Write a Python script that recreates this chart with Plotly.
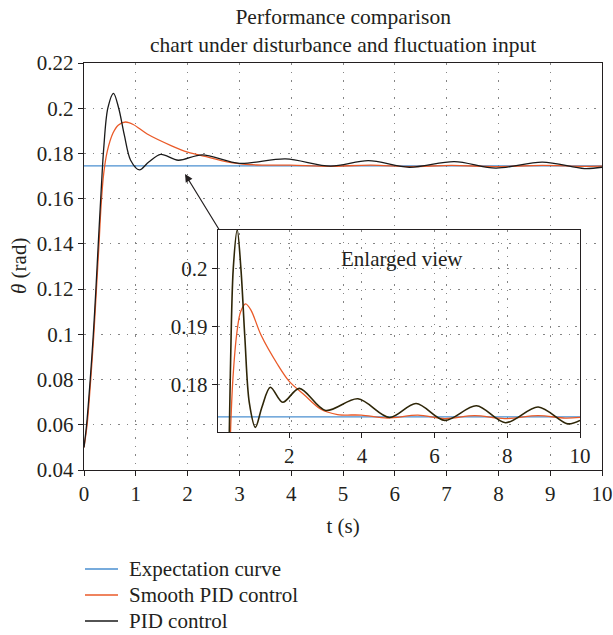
import plotly.graph_objects as go

# Time axis (s) and response values (rad)
t_expect = [0, 10]
y_expect = [0.1745, 0.1745]

t_smooth = [0, 0.06, 0.13, 0.19, 0.24, 0.29, 0.33, 0.38, 0.45, 0.56, 0.66, 0.8, 0.95,
            1.22, 1.68, 2.0, 2.41, 2.87, 3.33, 3.98, 4.71, 5.54, 6.28, 7.1, 7.93, 8.85,
            9.59, 10]
y_smooth = [0.05, 0.06, 0.08, 0.1, 0.12, 0.14, 0.157, 0.171, 0.181, 0.189, 0.1925, 0.1939,
            0.1928, 0.1886, 0.1835, 0.1806, 0.1783, 0.1758, 0.1749, 0.1748, 0.1743, 0.1748,
            0.1742, 0.1747, 0.1742, 0.1747, 0.1743, 0.1744]

t_pid = [0, 0.05, 0.12, 0.18, 0.23, 0.28, 0.33, 0.38, 0.46, 0.57, 0.67, 0.78, 0.9, 1.07,
         1.25, 1.48, 1.82, 2.28, 3.0, 3.89, 4.76, 5.49, 6.28, 7.15, 7.95, 8.85, 9.66, 10]
y_pid = [0.05, 0.06, 0.08, 0.1, 0.12, 0.142, 0.163, 0.182, 0.2, 0.2066, 0.2, 0.188, 0.177,
         0.1727, 0.1762, 0.1796, 0.177, 0.1794, 0.1756, 0.1776, 0.1744, 0.1768, 0.1739,
         0.1764, 0.1735, 0.1762, 0.1733, 0.1739]

series_names = ["Expectation curve", "Smooth PID control", "PID control"]

BLUE = "#4a8fd0"
ORANGE = "#ea5a28"
BLACK = "#1a1a1a"
INK = "#231f20"
FONT = "Liberation Serif"
FS = 21

# plot-area geometry in pixels (left, right, top, bottom)
L, R, T, B = 84, 602, 63, 470


def px_x(px):
    return (px - L) / (R - L)


def px_y(py):
    return (B - py) / (B - T)


GRID = dict(showgrid=True, gridcolor="#858585", griddash="1.5px,7px", gridwidth=1.3,
            zeroline=False, showline=True, linecolor=INK, linewidth=1.4,
            mirror=True, ticks="outside", ticklen=5, tickcolor=INK, automargin=False,
            tickfont=dict(family=FONT, size=FS, color=INK))

fig = go.Figure()

series = [(t_expect, y_expect, BLUE), (t_smooth, y_smooth, ORANGE), (t_pid, y_pid, BLACK)]

# main view
for name, (tx, ty, col) in zip(series_names, series):
    fig.add_trace(go.Scatter(x=tx, y=ty, mode="lines", name=name, showlegend=False,
                             line=dict(color=col, width=1.3, shape="spline", smoothing=0.9),
                             xaxis="x", yaxis="y"))

# enlarged view
for name, (tx, ty, col) in zip(series_names, series):
    fig.add_trace(go.Scatter(x=tx, y=ty, mode="lines", name=name, showlegend=False,
                             line=dict(color=col if col != BLACK else "#2e2608",
                                       width=1.3 if col != BLACK else 1.6,
                                       shape="spline", smoothing=0.9),
                             xaxis="x2", yaxis="y2"))

fig.update_layout(
    width=613, height=635,
    margin=dict(l=L, r=613 - R, t=T, b=635 - B, autoexpand=False),
    paper_bgcolor="white", plot_bgcolor="rgba(0,0,0,0)",
    font=dict(family=FONT, size=FS, color=INK),
    showlegend=False,
    xaxis=dict(range=[0, 10], dtick=1, tick0=0, domain=[0, 1],
               title=dict(text="t (s)", standoff=12, font=dict(family=FONT, size=FS)), **GRID),
    yaxis=dict(range=[0.04, 0.22], dtick=0.02, tick0=0, domain=[0, 1], **GRID),
    xaxis2=dict(range=[0.04, 10], dtick=2, tick0=0, domain=[px_x(218), px_x(580)],
                anchor="y2", **GRID),
    yaxis2=dict(range=[0.1719, 0.2066], dtick=0.01, tick0=0, domain=[px_y(432), px_y(230)],
                anchor="x2", **GRID),
)

# two-line title above the axes
fig.add_annotation(x=0.5, y=px_y(30.5), xref="paper", yref="paper",
                   xanchor="center", yanchor="middle", showarrow=False,
                   text="Performance comparison<br>chart under disturbance and fluctuation input",
                   font=dict(family=FONT, size=21.5, color=INK))

# y-axis title
fig.add_annotation(x=px_x(19), y=px_y(266), xref="paper", yref="paper",
                   xanchor="center", yanchor="middle", showarrow=False, textangle=-90,
                   text="<i>θ</i> (rad)", font=dict(family=FONT, size=FS, color=INK))

fig.add_annotation(x=1.95, y=0.1709, xref="x", yref="y",
                   ax=2.625, ay=0.1457, axref="x", ayref="y",
                   showarrow=True, arrowhead=2, arrowsize=1.3, arrowwidth=1.2,
                   arrowcolor=INK, text="")

fig.add_annotation(x=5.1, y=0.2017, xref="x2", yref="y2", text="Enlarged view",
                   showarrow=False, font=dict(family=FONT, size=FS, color=INK))

# key below the chart
key_rows = [569, 595, 621]
for name, (_, _, col), row in zip(series_names, series, key_rows):
    fig.add_shape(type="line", xref="paper", yref="paper",
                  x0=px_x(85), x1=px_x(118), y0=px_y(row), y1=px_y(row),
                  line=dict(color=col, width=1.5))
    fig.add_annotation(x=px_x(127), y=px_y(row), xref="paper", yref="paper",
                       xanchor="left", yanchor="middle", showarrow=False, text=name,
                       font=dict(family=FONT, size=FS, color=INK))

fig.write_html("out.html")
